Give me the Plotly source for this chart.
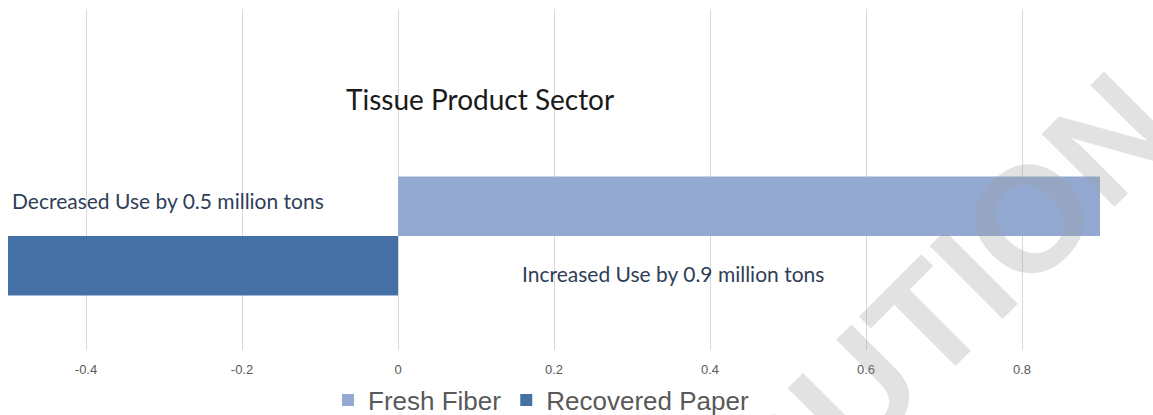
import plotly.graph_objects as go

categories = ["Tissue Product Sector"]
series_names = ["Fresh Fiber", "Recovered Paper"]
fresh_fiber = [0.9]
recovered_paper = [-0.5]
tick_vals = [-0.4, -0.2, 0, 0.2, 0.4, 0.6, 0.8]
tick_text = ["-0.4", "-0.2", "0", "0.2", "0.4", "0.6", "0.8"]
title_text = "Tissue Product Sector"
label_decreased = "Decreased Use by 0.5 million tons"
label_increased = "Increased Use by 0.9 million tons"
watermark_text = "DISTRIBUTION"

W, H = 1153, 415
ML, MR, MT, MB = 0, 0, 9, 65
PH = H - MT - MB

def px(x):
    return x / (W - ML - MR)

def py(y):
    return (H - MB - y) / PH

fig = go.Figure()
# Plotly stacks grouped horizontal bars bottom-up, so add the lower bar first
fig.add_trace(go.Bar(
    y=categories, x=recovered_paper, orientation="h", name=series_names[1],
    marker=dict(color="#4570a5", line=dict(width=0)), legendrank=2,
))
fig.add_trace(go.Bar(
    y=categories, x=fresh_fiber, orientation="h", name=series_names[0],
    marker=dict(color="#93a9d1", line=dict(width=0)), legendrank=1,
))

fig.update_layout(
    width=W, height=H,
    margin=dict(l=ML, r=MR, t=MT, b=MB, autoexpand=False),
    paper_bgcolor="white", plot_bgcolor="white",
    barmode="group", bargap=0.2, bargroupgap=0,
    showlegend=True,
    legend=dict(
        orientation="h", x=px(541), xanchor="center", y=py(400), yanchor="middle",
        font=dict(family="Liberation Sans, Arial", size=26, color="#595959"),
        itemwidth=30, tracegroupgap=0, bgcolor="rgba(0,0,0,0)",
    ),
    xaxis=dict(
        range=[-398 / 780, 755 / 780],
        tickvals=tick_vals, ticktext=tick_text,
        showgrid=True, gridcolor="#d9d9d9", gridwidth=1,
        zeroline=True, zerolinecolor="#d9d9d9", zerolinewidth=1,
        showline=False,
        ticks="outside", ticklen=7, tickcolor="rgba(0,0,0,0)",
        tickfont=dict(family="Liberation Sans, Arial", size=13, color="#595959"),
        fixedrange=True,
    ),
    yaxis=dict(
        range=[-114 / 148.75, 227 / 148.75],
        showticklabels=False, showgrid=False, zeroline=False, showline=False,
        fixedrange=True,
    ),
)

annotations = [
    dict(text=title_text, x=px(344), y=py(99), xref="paper", yref="paper",
         xanchor="left", yanchor="middle", showarrow=False,
         font=dict(family="Lato", size=28, color="#1a1a1a")),
    dict(text=label_decreased, x=px(10), y=py(201), xref="paper", yref="paper",
         xanchor="left", yanchor="middle", showarrow=False,
         font=dict(family="Lato", size=21, color="#2f3e58")),
    dict(text=label_increased, x=px(520), y=py(273), xref="paper", yref="paper",
         xanchor="left", yanchor="middle", showarrow=False,
         font=dict(family="Lato", size=21, color="#2f3e58")),
    dict(text="<b>" + watermark_text + "</b>", x=px(770), y=py(478), xref="paper", yref="paper",
         xanchor="center", yanchor="middle", showarrow=False, textangle=-45,
         font=dict(family="Liberation Sans, Arial", size=150, color="rgba(160,160,160,0.3)")),
]
fig.update_layout(annotations=annotations)

fig.write_html("out.html")
